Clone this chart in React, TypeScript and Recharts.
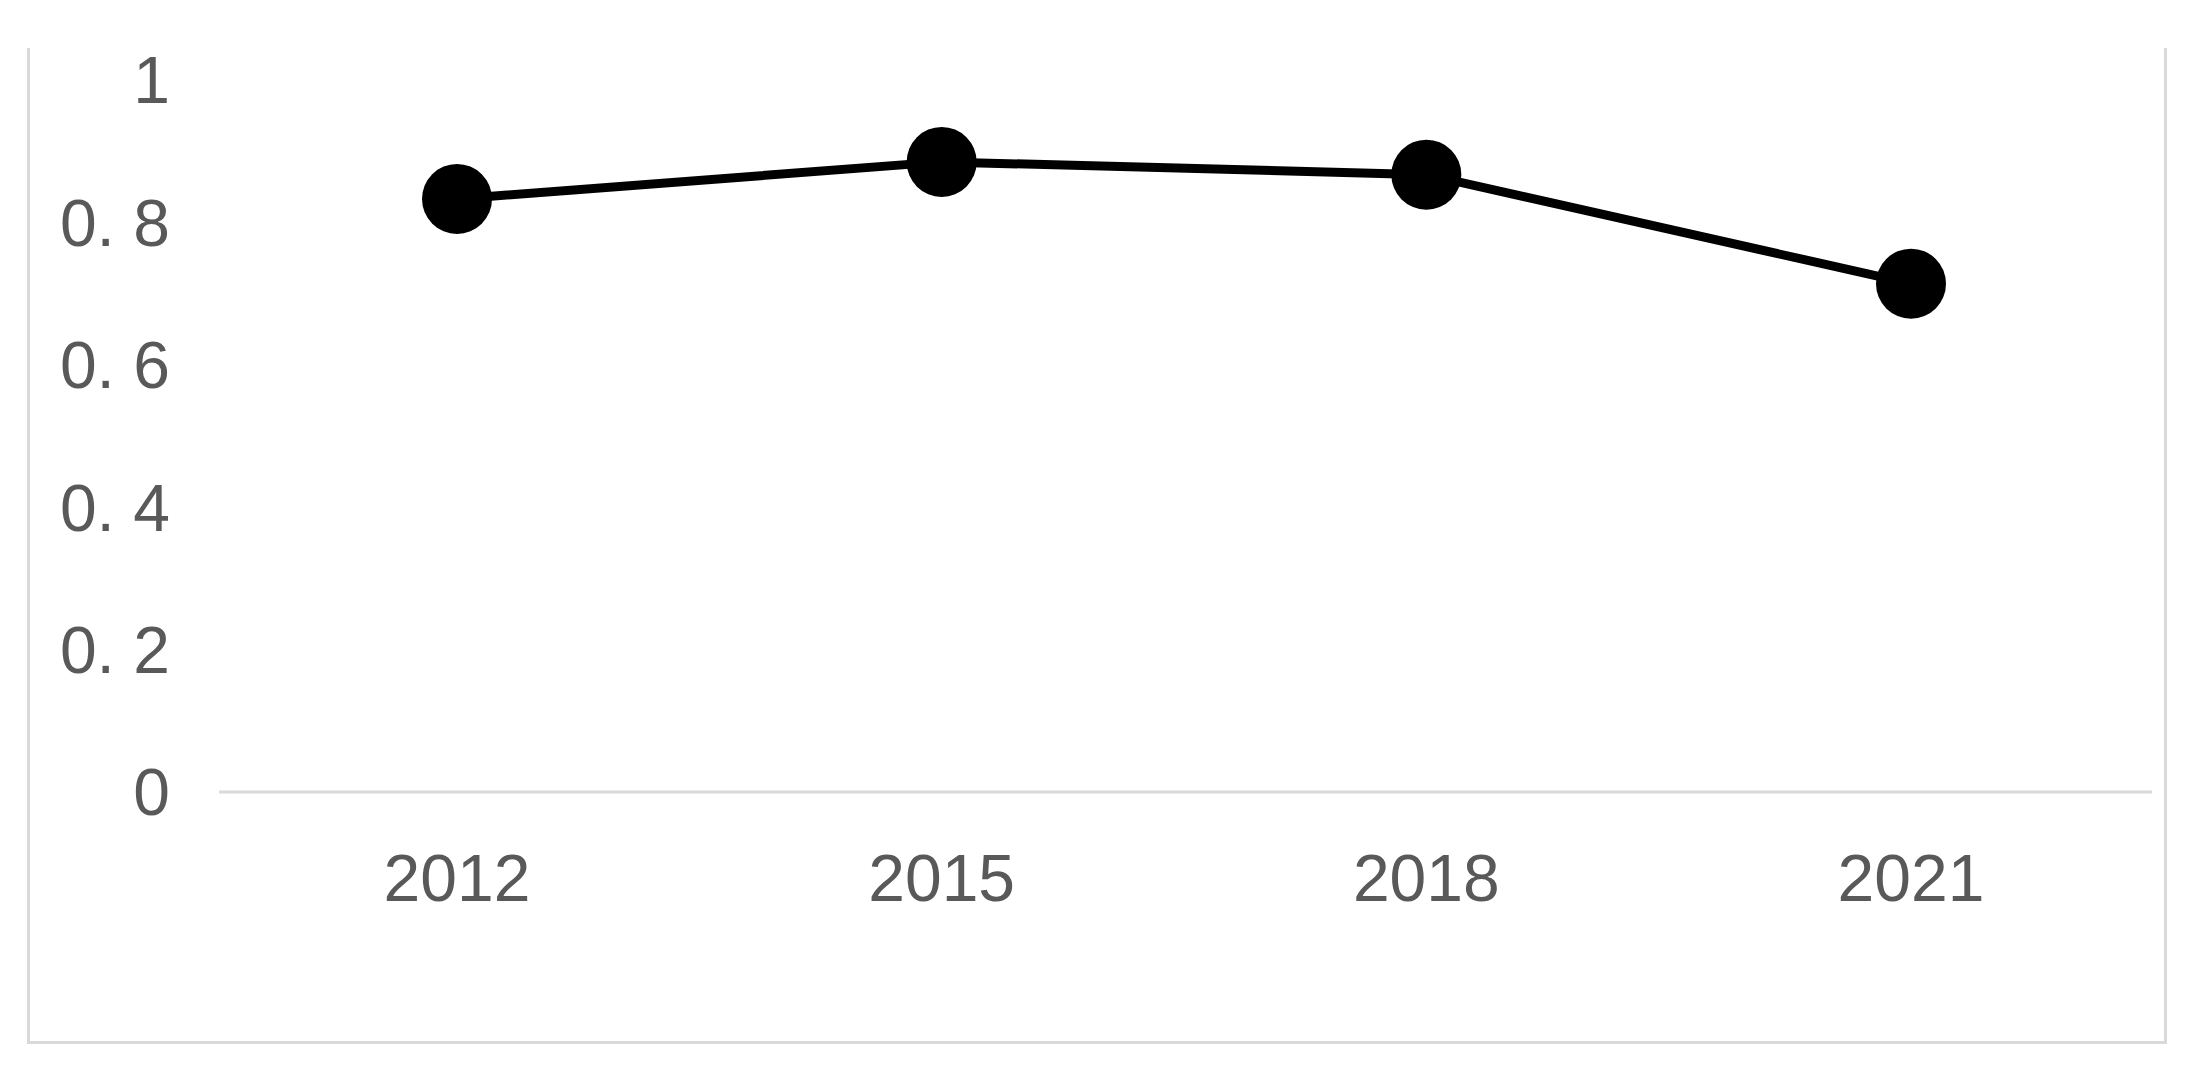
import { LineChart, Line, XAxis, YAxis } from "recharts";

const years = ["2012", "2015", "2018", "2021"];
const values = [0.833, 0.885, 0.867, 0.714];
const yTicks = [0, 0.2, 0.4, 0.6, 0.8, 1];
const yTickLabels = ["0", "0. 2", "0. 4", "0. 6", "0. 8", "1"];

const data = years.map((year, i) => ({ year, value: values[i] }));

const FONT = "'Liberation Sans', Arial, sans-serif";
const TEXT_COLOR = "#595959";
const GRAY = "#d9d9d9";

const YTick = ({ x, y, payload }: any) => {
  const idx = yTicks.indexOf(payload.value);
  return (
    <text
      x={x}
      y={y}
      dy="0.355em"
      textAnchor="end"
      fontFamily={FONT}
      fontSize={66}
      fill={TEXT_COLOR}
    >
      {idx >= 0 ? yTickLabels[idx] : payload.value}
    </text>
  );
};

const XTick = ({ x, y, payload }: any) => (
  <text
    x={x}
    y={y}
    dy="0.355em"
    textAnchor="middle"
    fontFamily={FONT}
    fontSize={66}
    fill={TEXT_COLOR}
  >
    {payload.value}
  </text>
);

export default function App() {
  return (
    <div
      style={{
        position: "absolute",
        top: 0,
        left: 0,
        width: 2205,
        height: 1078,
        background: "#fff",
      }}
    >
      {/* frame around the chart, top edge is cut off in the original */}
      <div
        style={{
          position: "absolute",
          left: 27,
          top: 48,
          width: 2140,
          height: 996,
          borderLeft: `3px solid ${GRAY}`,
          borderRight: `3px solid ${GRAY}`,
          borderBottom: `3px solid ${GRAY}`,
          boxSizing: "border-box",
        }}
      />
      <div style={{ position: "absolute", top: 0, left: 0 }}>
        <LineChart
          width={2205}
          height={1078}
          data={data}
          margin={{ top: 80, right: 53, bottom: 0, left: 0 }}
        >
          <XAxis
            dataKey="year"
            type="category"
            padding={{ left: 238, right: 241 }}
            axisLine={{ stroke: GRAY, strokeWidth: 3 }}
            tickLine={false}
            tickSize={0}
            tickMargin={86}
            tick={<XTick />}
            height={286}
          />
          <YAxis
            type="number"
            domain={[0, 1]}
            ticks={yTicks}
            width={219}
            axisLine={false}
            tickLine={false}
            tickSize={0}
            tickMargin={49}
            tick={<YTick />}
          />
          <Line
            type="linear"
            dataKey="value"
            stroke="#000"
            strokeWidth={9}
            dot={{ r: 35, fill: "#000", stroke: "none" }}
            activeDot={false}
            isAnimationActive={false}
          />
        </LineChart>
      </div>
    </div>
  );
}
